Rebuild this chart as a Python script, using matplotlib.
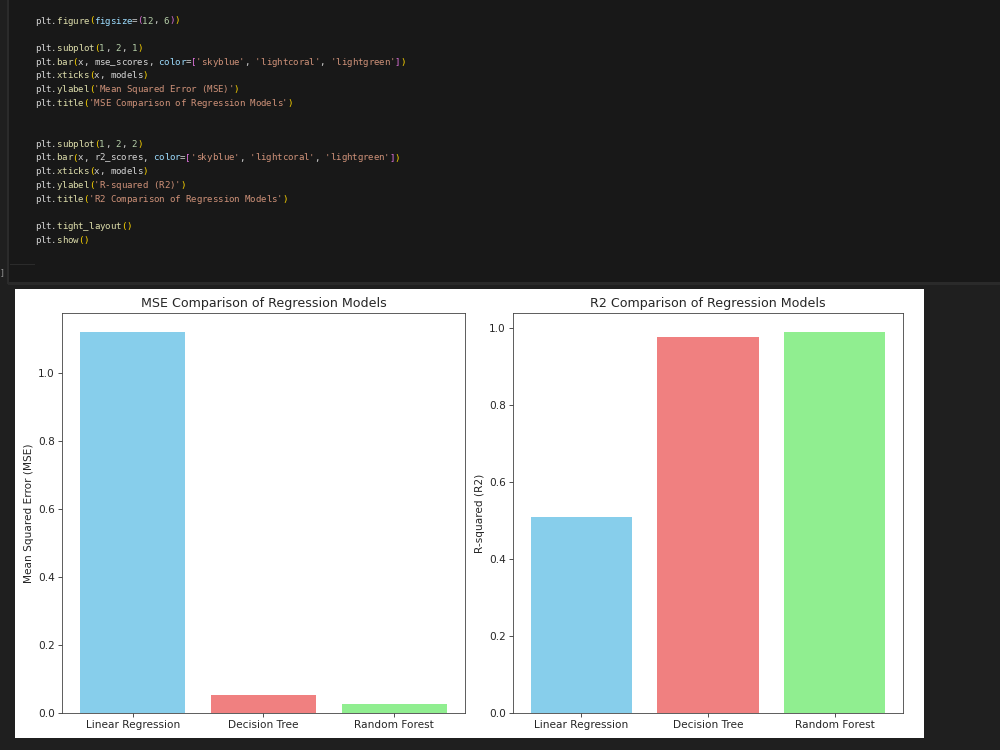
"""
Notebook screenshot: a code cell and the two bar charts it draws
(MSE and R2 of three regression models).
"""
import re

import matplotlib
matplotlib.use('Agg')
import matplotlib.pyplot as plt
from matplotlib.patches import Rectangle

# Values
models = ['Linear Regression', 'Decision Tree', 'Random Forest']
mse_scores = [1.119, 0.054, 0.027]
r2_scores = [0.510, 0.977, 0.989]
bar_colors = ['skyblue', 'lightcoral', 'lightgreen']

code_lines = [
    "plt.figure(figsize=(12, 6))",
    "",
    "plt.subplot(1, 2, 1)",
    "plt.bar(x, mse_scores, color=['skyblue', 'lightcoral', 'lightgreen'])",
    "plt.xticks(x, models)",
    "plt.ylabel('Mean Squared Error (MSE)')",
    "plt.title('MSE Comparison of Regression Models')",
    "",
    "",
    "plt.subplot(1, 2, 2)",
    "plt.bar(x, r2_scores, color=['skyblue', 'lightcoral', 'lightgreen'])",
    "plt.xticks(x, models)",
    "plt.ylabel('R-squared (R2)')",
    "plt.title('R2 Comparison of Regression Models')",
    "",
    "plt.tight_layout()",
    "plt.show()",
]

W, H = 1000, 750
PAGE_BG = '#1f1f1f'
CELL_BG = '#181818'
BRACKETS = ['#ffd700', '#da70d6', '#179fff']


def fx(x):
    return x / W


def fy(y):
    return 1 - y / H


def rect(fig, x0, y0, x1, y1, color):
    """Filled rectangle given in screen pixels (y down), behind the axes."""
    fig.patches.append(Rectangle((fx(x0), fy(y1)), (x1 - x0) / W, (y1 - y0) / H,
                                 transform=fig.transFigure, facecolor=color,
                                 edgecolor='none', zorder=-10))


def tokens(line):
    """Split a code line into (text, color) pieces, VS Code dark style."""
    out = []
    depth = 0
    parts = re.findall(r"'[^']*'|[A-Za-z_][A-Za-z_0-9]*|\d+|\s+|.", line)
    for i, tok in enumerate(parts):
        nxt = parts[i + 1] if i + 1 < len(parts) else ''
        if tok.startswith("'"):
            col = '#ce9178'
        elif tok.isdigit():
            col = '#b5cea8'
        elif tok in '([':
            col = BRACKETS[depth % 3]
            depth += 1
        elif tok in ')]':
            depth -= 1
            col = BRACKETS[depth % 3]
        elif re.match(r'[A-Za-z_]', tok):
            if nxt == '=':
                col = '#9cdcfe'
            elif nxt == '(':
                col = '#dcdcaa'
            else:
                col = '#d4d4d4'
        else:
            col = '#d4d4d4'
        out.append((tok, col))
    return out


fig = plt.figure(figsize=(10, 7.5), dpi=100)
fig.patch.set_facecolor(PAGE_BG)

# Code cell background and borders
rect(fig, 8, 0, W, 282, CELL_BG)
rect(fig, 8, 282, W, 285, '#2a2a2a')
rect(fig, 7, 0, 9, 284, '#2b2b2b')
rect(fig, 10, 264, 35, 265, '#2b2b2b')
fig.text(fx(0), fy(273), ']', color='#9a9a9a', fontsize=6, va='center',
         family='DejaVu Sans Mono')

# Code text, one character per cell of a fixed grid
char_w = 5.37
line_h = 13.7
for row, line in enumerate(code_lines):
    col = 0
    for tok, color in tokens(line):
        for ch in tok:
            if ch.strip():
                fig.text(fx(35 + (col + 0.5) * char_w), fy(21 + row * line_h), ch,
                         color=color, fontsize=6.6, va='center', ha='center',
                         family='DejaVu Sans Mono')
            col += 1

# White image area holding the matplotlib output
rect(fig, 15, 289, 924, 738, 'white')

scale = 0.757
plt.rcParams['font.size'] = 10 * scale
plt.rcParams['axes.linewidth'] = 0.8 * scale
plt.rcParams['xtick.major.size'] = 3.5 * scale
plt.rcParams['ytick.major.size'] = 3.5 * scale
plt.rcParams['xtick.major.width'] = 0.8 * scale
plt.rcParams['ytick.major.width'] = 0.8 * scale
plt.rcParams['xtick.major.pad'] = 3.5 * scale
plt.rcParams['ytick.major.pad'] = 3.5 * scale
plt.rcParams['axes.labelpad'] = 4 * scale
plt.rcParams['axes.titlepad'] = 6 * scale

x = list(range(len(models)))

ax1 = fig.add_axes([fx(62), fy(713), (465 - 62) / W, (713 - 313) / H])
ax1.bar(x, mse_scores, color=bar_colors)
ax1.set_xticks(x, models)
ax1.set_ylabel('Mean Squared Error (MSE)')
ax1.set_title('MSE Comparison of Regression Models', fontsize=12 * scale)

ax2 = fig.add_axes([fx(513), fy(713), (903 - 513) / W, (713 - 313) / H])
ax2.bar(x, r2_scores, color=bar_colors)
ax2.set_xticks(x, models)
ax2.set_ylabel('R-squared (R2)')
ax2.set_title('R2 Comparison of Regression Models', fontsize=12 * scale)

for ax in (ax1, ax2):
    for spine in ax.spines.values():
        spine.set_color('#444444')
    ax.tick_params(colors='#333333', labelcolor='#262626')
    ax.title.set_color('#262626')
    ax.yaxis.label.set_color('#262626')

fig.savefig('out.png', dpi=100, facecolor=fig.get_facecolor())
